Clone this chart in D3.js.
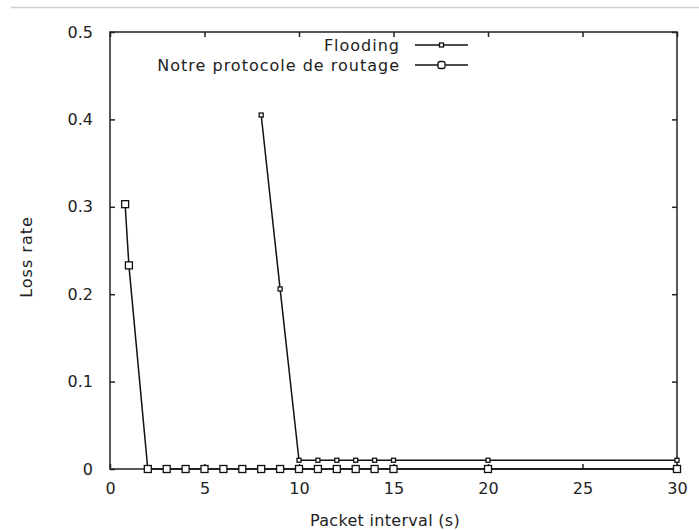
<!DOCTYPE html>
<html>
<head>
<meta charset="utf-8">
<script src="https://cdn.jsdelivr.net/npm/d3@7"></script>
<style>
  html, body { margin: 0; padding: 0; background: #fff; }
  svg text { font-family: "DejaVu Sans", Verdana, sans-serif; fill: #222; }
</style>
</head>
<body>
<svg id="chart" width="699" height="530"></svg>
<script>
// ---- data ----
const xTicks = [0, 5, 10, 15, 20, 25, 30];
const yTicks = [0, 0.1, 0.2, 0.3, 0.4, 0.5];

const protoX = [0.8, 1, 2, 3, 4, 5, 6, 7, 8, 9, 10, 11, 12, 13, 14, 15, 20, 30];
const protoY = [0.303, 0.233, 0, 0, 0, 0, 0, 0, 0, 0, 0, 0, 0, 0, 0, 0, 0, 0];

const floodX = [8, 9, 10, 11, 12, 13, 14, 15, 20, 30];
const floodY = [0.405, 0.206, 0.01, 0.01, 0.01, 0.01, 0.01, 0.01, 0.01, 0.01];

const seriesNames = ["Flooding", "Notre protocole de routage"];
const xLabel = "Packet interval (s)";
const yLabel = "Loss rate";

// ---- layout ----
const W = 699, H = 530;
const m = { left: 110, right: 22, top: 32, bottom: 61 };
const svg = d3.select("#chart");

// top gray separator line
svg.append("line")
  .attr("x1", 11).attr("x2", W).attr("y1", 7.5).attr("y2", 7.5)
  .attr("stroke", "#cfcfcf").attr("stroke-width", 1.5);

const x = d3.scaleLinear().domain([0, 30]).range([m.left, W - m.right]);
const y = d3.scaleLinear().domain([0, 0.5]).range([H - m.bottom, m.top]);

const g = svg.append("g");

// frame
g.append("rect")
  .attr("x", x(0)).attr("y", y(0.5))
  .attr("width", x(30) - x(0)).attr("height", y(0) - y(0.5))
  .attr("fill", "none").attr("stroke", "#222").attr("stroke-width", 1.5);

const tl = 5;
// axes with inward ticks
const xAxisB = d3.axisBottom(x).tickValues(xTicks).tickSize(-tl).tickPadding(14).tickFormat(d3.format("d"));
const xAxisT = d3.axisTop(x).tickValues(xTicks).tickSize(-tl).tickFormat("");
const yAxisL = d3.axisLeft(y).tickValues(yTicks).tickSize(-tl).tickPadding(17).tickFormat(d => d === 0 ? "0" : d3.format(".1f")(d));
const yAxisR = d3.axisRight(y).tickValues(yTicks).tickSize(-tl).tickFormat("");

function styleAxis(sel) {
  sel.select(".domain").remove();
  sel.selectAll(".tick line").attr("stroke", "#222").attr("stroke-width", 1.5);
  sel.selectAll(".tick text").attr("font-size", 16).attr("fill", "#2a2a2a")
    .style("font-family", '"DejaVu Sans", Verdana, sans-serif');
}
g.append("g").attr("transform", `translate(0,${y(0)})`).call(xAxisB).call(styleAxis);
g.append("g").attr("transform", `translate(0,${y(0.5)})`).call(xAxisT).call(styleAxis);
g.append("g").attr("transform", `translate(${x(0)},0)`).call(yAxisL).call(styleAxis);
g.append("g").attr("transform", `translate(${x(30)},0)`).call(yAxisR).call(styleAxis);

// axis titles
svg.append("text")
  .attr("x", 385).attr("y", 526)
  .attr("text-anchor", "middle").attr("font-size", 16)
  .attr("letter-spacing", 0.3)
  .text(xLabel);
svg.append("text")
  .attr("transform", `translate(32,257) rotate(-90)`)
  .attr("text-anchor", "middle").attr("font-size", 16)
  .attr("letter-spacing", 1)
  .text(yLabel);

const line = d3.line().x(d => x(d[0])).y(d => y(d[1]));
const protoData = protoX.map((v, i) => [v, protoY[i]]);
const floodData = floodX.map((v, i) => [v, floodY[i]]);

// series lines
g.append("path").datum(protoData).attr("d", line)
  .attr("fill", "none").attr("stroke", "#111").attr("stroke-width", 1.5);
g.append("path").datum(floodData).attr("d", line)
  .attr("fill", "none").attr("stroke", "#111").attr("stroke-width", 1.5);

// markers
const bigS = 7, smallS = 4;
g.selectAll(".mp").data(protoData).enter().append("rect")
  .attr("x", d => x(d[0]) - bigS / 2).attr("y", d => y(d[1]) - bigS / 2)
  .attr("width", bigS).attr("height", bigS)
  .attr("fill", "#fff").attr("stroke", "#111").attr("stroke-width", 1.3);
g.selectAll(".mf").data(floodData).enter().append("rect")
  .attr("x", d => x(d[0]) - smallS / 2).attr("y", d => y(d[1]) - smallS / 2)
  .attr("width", smallS).attr("height", smallS)
  .attr("fill", "#fff").attr("stroke", "#111").attr("stroke-width", 1.3);

// legend
const legend = svg.append("g");
const rows = [
  { name: seriesNames[0], yy: 45, size: smallS },
  { name: seriesNames[1], yy: 65, size: bigS }
];
rows.forEach(r => {
  legend.append("text")
    .attr("x", 400).attr("y", r.yy).attr("dy", "0.35em")
    .attr("text-anchor", "end").attr("font-size", 16)
    .attr("letter-spacing", 1)
    .text(r.name);
  legend.append("line")
    .attr("x1", 415).attr("x2", 468).attr("y1", r.yy).attr("y2", r.yy)
    .attr("stroke", "#111").attr("stroke-width", 1.5);
  legend.append("rect")
    .attr("x", 441.5 - r.size / 2).attr("y", r.yy - r.size / 2)
    .attr("width", r.size).attr("height", r.size)
    .attr("rx", r.size > 5 ? 2 : 0)
    .attr("fill", "#fff").attr("stroke", "#111").attr("stroke-width", 1.3);
});
</script>
</body>
</html>
